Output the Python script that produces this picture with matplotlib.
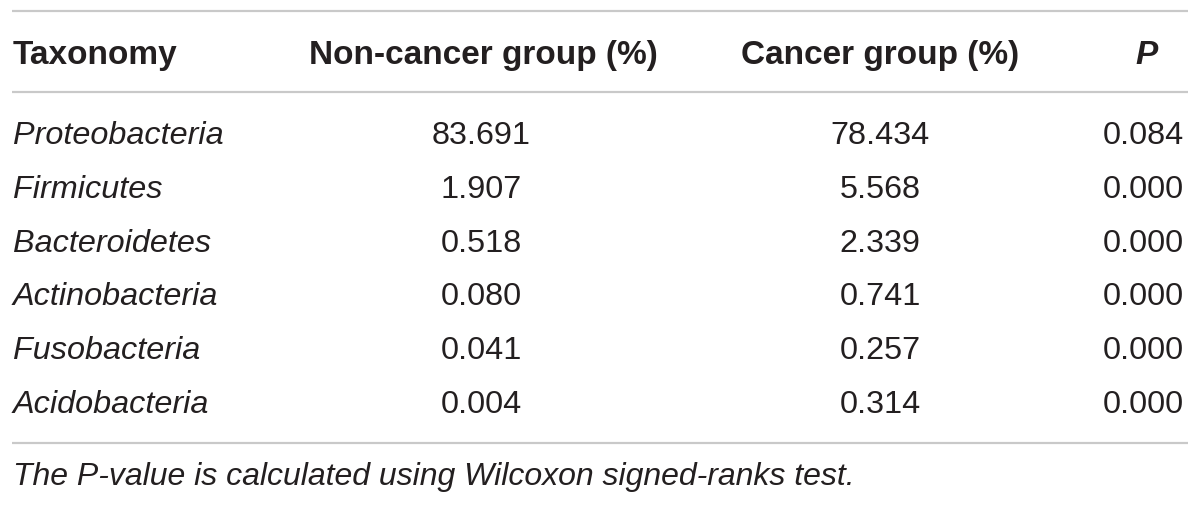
import matplotlib
matplotlib.use("Agg")
import matplotlib.pyplot as plt

plt.rcParams['font.family'] = ['Liberation Sans', 'DejaVu Sans']

headers = ['Taxonomy', 'Non-cancer group (%)', 'Cancer group (%)', 'P']
taxa = ['Proteobacteria', 'Firmicutes', 'Bacteroidetes', 'Actinobacteria',
        'Fusobacteria', 'Acidobacteria']
non_cancer = ['83.691', '1.907', '0.518', '0.080', '0.041', '0.004']
cancer = ['78.434', '5.568', '2.339', '0.741', '0.257', '0.314']
p_values = ['0.084', '0.000', '0.000', '0.000', '0.000', '0.000']
footnote = 'The P-value is calculated using Wilcoxon signed-ranks test.'

txt = '#231f20'
rule = '#c9c9c9'
fs_head = 24
fs_body = 23.3
fs_note = 23

fig = plt.figure(figsize=(12, 5.06), dpi=100)
ax = fig.add_axes([0, 0, 1, 1])
ax.set_xlim(0, 1200)
ax.set_ylim(506, 0)
ax.axis('off')

# rules
for y in (12, 93, 444):
    ax.plot([12, 1188], [y, y], color=rule, lw=1.6, solid_capstyle='butt')

# header
hy = 63.5
ax.text(13, hy, headers[0], fontsize=fs_head, fontweight='bold', color=txt, va='baseline', ha='left')
ax.text(483, hy, headers[1], fontsize=fs_head, fontweight='bold', color=txt, va='baseline', ha='center')
ax.text(880, hy, headers[2], fontsize=fs_head, fontweight='bold', color=txt, va='baseline', ha='center')
ax.text(1147, hy, headers[3], fontsize=fs_head, fontweight='bold', style='italic', color=txt,
        va='baseline', ha='center')

# rows
y0, dy = 144, 53.8
for i in range(len(taxa)):
    y = y0 + i * dy
    ax.text(13, y, taxa[i], fontsize=fs_body, style='italic', color=txt, va='baseline', ha='left')
    ax.text(481, y, non_cancer[i], fontsize=fs_body, color=txt, va='baseline', ha='center')
    ax.text(880, y, cancer[i], fontsize=fs_body, color=txt, va='baseline', ha='center')
    ax.text(1184, y, p_values[i], fontsize=fs_body, color=txt, va='baseline', ha='right')

ax.text(13, 485, footnote, fontsize=fs_note, style='italic', color=txt, va='baseline', ha='left')

fig.savefig('out.png', dpi=100)
